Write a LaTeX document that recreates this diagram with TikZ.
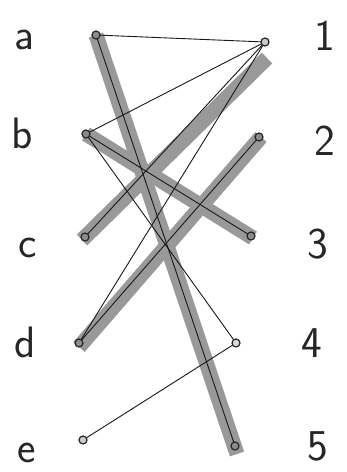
\documentclass[tikz,border=0pt]{standalone}
\usetikzlibrary{calc}
\begin{document}
\begin{tikzpicture}[x=1pt,y=-1pt,
  pt/.style={circle,draw=black!85,fill=black!45,line width=1.2pt,inner sep=0pt,minimum size=8pt},
  band/.style={line width=15pt,draw=black!40,line cap=butt},
  thin/.style={line width=0.9pt,draw=black!90},
  lbl/.style={font=\sffamily\fontsize{44}{48}\selectfont,text=black!85,inner sep=0pt,anchor=base}]
\useasboundingbox (0,0) rectangle (347,472);
\fill[white] (0,0) rectangle (347,472);
% coordinates of points
\coordinate (pa) at (96,35);
\coordinate (pb) at (86,134);
\coordinate (pc) at (85,237);
\coordinate (pd) at (79,343);
\coordinate (pe) at (83,440);
\coordinate (p1) at (265,42);
\coordinate (p2) at (259,137);
\coordinate (p3) at (251,236);
\coordinate (p4) at (236,343);
\coordinate (p5) at (235,446);
% thick bands
\draw[band] (pa) -- ($(p5)+(2,8)$);
\draw[band] ($(pc)+(-3,3)$) -- ($(p1)+(2,16)$);
\draw[band] (pb) -- ($(p3)+(2,2)$);
\draw[band] ($(pd)+(0,4)$) -- ($(p2)+(2,0)$);
% thin connectors
\draw[thin] (pa) -- (p1);
\draw[thin] (pb) -- (p1);
\draw[thin] (pa) -- (p5);
\draw[thin] (pc) -- (p1);
\draw[thin] (pd) -- (p1);
\draw[thin] (pd) -- (p2);
\draw[thin] (pb) -- (p3);
\draw[thin] (pb) -- (p4);
\draw[thin] (pe) -- (p4);
% points
\node[pt] (na) at (pa) {};
\node[pt] (nb) at (pb) {};
\node[pt] (nc) at (pc) {};
\node[pt] (nd) at (pd) {};
\node[pt,fill=black!20] (ne) at (pe) {};
\node[pt,fill=black!20] (n1) at (p1) {};
\node[pt] (n2) at (p2) {};
\node[pt] (n3) at (p3) {};
\node[pt,fill=black!15] (n4) at (p4) {};
\node[pt] (n5) at (p5) {};
% labels
\node[lbl] (la) at (24,49) {a};
\node[lbl] (lb) at (22,148) {b};
\node[lbl] (lc) at (28,257) {c};
\node[lbl] (ld) at (25,357) {d};
\node[lbl] (le) at (27,462) {e};
\node[lbl] (l1) at (325,50) {1};
\node[lbl] (l2) at (325,155) {2};
\node[lbl] (l3) at (318,258) {3};
\node[lbl] (l4) at (312,357) {4};
\node[lbl] (l5) at (318,460) {5};
\end{tikzpicture}
\end{document}
